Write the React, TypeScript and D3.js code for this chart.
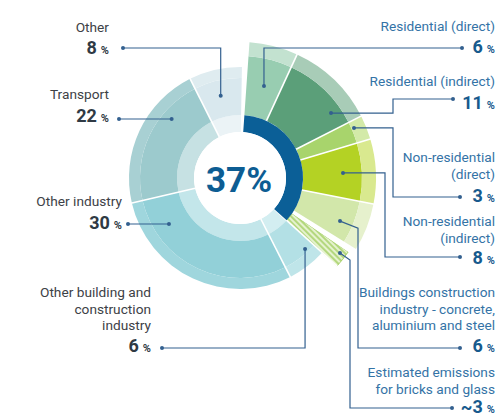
import React from "react";
import * as d3 from "d3";

// ---- data ----
const segmentNames = [
  "Residential (direct)",
  "Residential (indirect)",
  "Non-residential (direct)",
  "Non-residential (indirect)",
  "Buildings construction industry - concrete, aluminium and steel",
  "Estimated emissions for bricks and glass",
  "Other building and construction industry",
  "Other industry",
  "Transport",
  "Other",
];
const segmentValues = [6, 11, 3, 8, 6, 3, 6, 30, 22, 8];
const valueLabels = ["6", "11", "3", "8", "6", "~3", "6", "30", "22", "8"];
const buildingsTotal = "37%";
const isBuildings = [true, true, true, true, true, true, false, false, false, false];

// ---- styles ----
const W = 500, H = 418;
const cx = 240, cy = 178;
const rWhite = 46, rRing = 63, rOther = 111, rOtherBand = 100, rBuild = 136, rBuildBand = 122, rHatch = 131;
const mainColors = ["#98cdb1", "#5b9f79", "#a8d46c", "#b4d224", "#d2e7aa", "url(#hatch)", "#b3e0e5", "#92d0d8", "#9ccacd", "#d9e8ee"];
const bandColors = ["#c3e2d0", "#a8ccb7", "#d3eaa8", "#d9e98f", "#e6f1cd", null, "#bfe5e9", "#9fd6dd", "#a8d0d3", "#dfecf0"];
const innerColors = [null, null, null, null, null, null, "#d3eef1", "#c3e6ea", "#c6e1e3", "#ebf3f6"];
const darkBlue = "#0b5f97";
const leaderColor = "#33608f";
const labelFont = 13.7;

// label layout (annotation positions)
type Lab = { idx: number; side: "L" | "R"; x: number; lines: string[]; y0: number; vy: number; dot: [number, number]; elbowX: number | null; ang: number; r: number; tailDy?: number };
const labels: Lab[] = [
  { idx: 9, side: "L", x: 109, lines: ["Other"], y0: 32, vy: 54, dot: [123, 48], elbowX: null, ang: 346.8, r: 84.5 },
  { idx: 8, side: "L", x: 109, lines: ["Transport"], y0: 99, vy: 122, dot: [119, 119], elbowX: null, ang: 310.8, r: 90.3 },
  { idx: 7, side: "L", x: 122, lines: ["Other industry"], y0: 206, vy: 229, dot: [128, 224], elbowX: null, ang: 237.1, r: 84.6 },
  { idx: 6, side: "L", x: 151, lines: ["Other building and", "construction", "industry"], y0: 297, vy: 352, dot: [162, 348], elbowX: null, ang: 137.5, r: 96.3 },
  { idx: 0, side: "R", x: 495, lines: ["Residential (direct)"], y0: 31, vy: 53, dot: [462, 48], elbowX: null, ang: 14.6, r: 95.1 },
  { idx: 1, side: "R", x: 495, lines: ["Residential (indirect)"], y0: 86, vy: 109, dot: [453, 99], elbowX: 393, ang: 54.5, r: 111.8 },
  { idx: 2, side: "R", x: 495, lines: ["Non-residential", "(direct)"], y0: 162, vy: 202, dot: [460, 197], elbowX: 393, ang: 66.3, r: 124.5 },
  { idx: 3, side: "R", x: 495, lines: ["Non-residential", "(indirect)"], y0: 226, vy: 264, dot: [460, 257], elbowX: 385, ang: 87.2, r: 103.1 },
  { idx: 4, side: "R", x: 495, lines: ["Buildings construction", "industry - concrete,", "aluminium and steel"], y0: 297, vy: 352, dot: [460, 348], elbowX: 358, ang: 113.3, r: 108.9, tailDy: 7 },
  { idx: 5, side: "R", x: 495, lines: ["Estimated emissions", "for bricks and glass"], y0: 377, vy: 413, dot: [452, 408], elbowX: 350, ang: 126.9, r: 125, tailDy: 7 },
];

const deg = Math.PI / 180;

export default function App() {
  const pie = d3.pie<number>().sort(null).value((d) => d).startAngle(4 * deg).endAngle(361 * deg).padAngle(0);
  const arcsData = pie(segmentValues);
  const arc = d3.arc<any>();
  const hatchGap = 2.5 * deg;

  const pieces: JSX.Element[] = [];
  arcsData.forEach((a, i) => {
    const build = isBuildings[i];
    let s = a.startAngle, e = a.endAngle;
    if (i === 5) s += hatchGap;
    if (build) {
      if (i === 5) {
        pieces.push(<path key={"m" + i} d={arc({ innerRadius: rRing, outerRadius: rHatch, startAngle: s, endAngle: e }) || ""} fill="url(#hatch)" stroke="#9fcd5c" strokeWidth={0.9} />);
      } else {
        pieces.push(<path key={"m" + i} d={arc({ innerRadius: rRing, outerRadius: rBuildBand, startAngle: s, endAngle: e }) || ""} fill={mainColors[i]} />);
        pieces.push(<path key={"b" + i} d={arc({ innerRadius: rBuildBand, outerRadius: rBuild, startAngle: s, endAngle: e }) || ""} fill={bandColors[i]!} />);
      }
    } else {
      pieces.push(<path key={"i" + i} d={arc({ innerRadius: rWhite, outerRadius: rRing, startAngle: s, endAngle: e }) || ""} fill={innerColors[i]!} />);
      pieces.push(<path key={"m" + i} d={arc({ innerRadius: rRing, outerRadius: rOtherBand, startAngle: s, endAngle: e }) || ""} fill={mainColors[i]} />);
      pieces.push(<path key={"b" + i} d={arc({ innerRadius: rOtherBand, outerRadius: rOther, startAngle: s, endAngle: e }) || ""} fill={bandColors[i]!} />);
    }
  });

  // separators (white radial lines)
  const seps: JSX.Element[] = [];
  arcsData.forEach((a, i) => {
    if (i === 0) return;
    const ang = a.startAngle;
    const build = isBuildings[i] || isBuildings[i - 1];
    const r0 = isBuildings[i] && isBuildings[i - 1] ? rRing : rWhite;
    const r1 = build ? rBuild + 1 : rOther + 1;
    seps.push(
      <line key={"s" + i} x1={r0 * Math.sin(ang)} y1={-r0 * Math.cos(ang)} x2={r1 * Math.sin(ang)} y2={-r1 * Math.cos(ang)} stroke="#fff" strokeWidth={1.6} />
    );
  });

  const bStart = arcsData[0].startAngle, bEnd = arcsData[5].endAngle;
  const darkArc = arc({ innerRadius: rWhite, outerRadius: rRing, startAngle: bStart, endAngle: bEnd }) || "";
  const gapArc = arc({ innerRadius: rRing, outerRadius: rBuild + 1, startAngle: arcsData[5].startAngle, endAngle: arcsData[5].startAngle + hatchGap }) || "";

  const line = d3.line();

  return (
    <svg width={W} height={H} style={{ position: "absolute", left: 0, top: 0, background: "#fff" }} fontFamily="Roboto, 'Noto Sans', sans-serif">
      <defs>
        <pattern id="hatch" patternUnits="userSpaceOnUse" width="4" height="4" patternTransform="rotate(-45)">
          <rect width="4" height="4" fill="#e6f2cf" />
          <line x1="1" y1="0" x2="1" y2="4" stroke="#9fcd5c" strokeWidth={1.4} />
        </pattern>
      </defs>
      <rect width={W} height={H} fill="#fff" />
      <g transform={`translate(${cx},${cy})`}>
        {pieces}
        {seps}
        <path d={gapArc} fill="#fff" />
        <path d={darkArc} fill={darkBlue} />
        <circle r={rWhite} fill="#fff" />
        <text x={-1} y={14} textAnchor="middle" fontSize={35} fontWeight={700} fill="#0d5d93">{buildingsTotal}</text>
      </g>
      {labels.map((l) => {
        const a = l.ang * deg;
        const ax = cx + l.r * Math.sin(a), ay = cy - l.r * Math.cos(a);
        const ex = l.elbowX === null ? ax : l.elbowX;
        const pts: [number, number][] = [l.dot, [ex, l.dot[1]], [ex, ay + (l.tailDy || 0)], [ax, ay]];
        const textColor = l.side === "L" ? "#3d4146" : "#3473a6";
        const valColor = l.side === "L" ? "#2f3a44" : "#175a8d";
        return (
          <g key={l.idx}>
            <path d={line(pts) || ""} fill="none" stroke={leaderColor} strokeWidth={1.2} />
            <circle cx={l.dot[0]} cy={l.dot[1]} r={2} fill={leaderColor} />
            <circle cx={ax} cy={ay} r={2} fill={leaderColor} />
            {l.lines.map((t, k) => (
              <text key={k} x={l.x} y={l.y0 + k * 16.5} textAnchor="end" fontSize={labelFont} fill={textColor}>{t}</text>
            ))}
            <text x={l.x} y={l.vy} textAnchor="end" fill={valColor} fontWeight={700}>
              <tspan fontSize={18}>{valueLabels[l.idx]}</tspan>
              <tspan fontSize={11} dx={4}>%</tspan>
            </text>
          </g>
        );
      })}
    </svg>
  );
}
